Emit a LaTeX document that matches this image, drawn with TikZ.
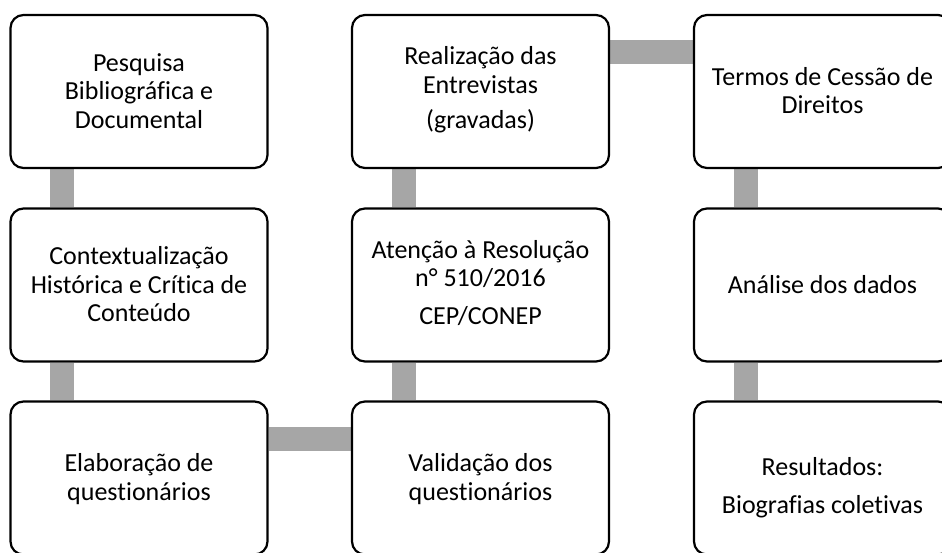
\documentclass[tikz,border=0pt]{standalone}
\usepackage{fontspec}
\setmainfont{Carlito}[RawFeature={-liga;-clig;-dlig}]
\usetikzlibrary{calc,backgrounds}
\definecolor{barcol}{HTML}{A6A6A6}
\newcommand\sT{\rule[-6.05pt]{0pt}{28.5pt}}
\newcommand\sTtop[1]{\rule[-6.05pt]{0pt}{\dimexpr28.5pt+#1\relax}}
\newcommand\sTbot[1]{\rule[\dimexpr-6.05pt-#1\relax]{0pt}{\dimexpr28.5pt+#1\relax}}
\begin{document}
\begin{tikzpicture}[x=1pt,y=-1pt,
  box/.style={draw=black, line width=2.2pt, rounded corners=13pt, fill=white,
    minimum width=257pt, minimum height=153pt, inner sep=0pt, align=center,
    font=\fontsize{26pt}{28.5pt}\selectfont},
  bar/.style={draw=barcol, line width=24pt}]
\useasboundingbox (0,0) rectangle (942,552);
\clip (0,0) rectangle (942,552);
% column 1
\node[box] (pesq) at (139,91.5) {\sT Pesquisa\\\sT Bibliográfica e\\\sT Documental};
\node[box] (ctx) at (139,285) {\sT Contextualização\\\sT Histórica e Crítica de\\\sT Conteúdo};
\node[box] (elab) at (139,478) {\sT Elaboração de\\\sT questionários};
% column 2
\node[box] (valid) at (480.5,478) {\sT Validação dos\\\sT questionários};
\node[box] (aten) at (480.5,285) {\sT Atenção à Resolução\\\sT n° 510/2016\\[9pt]\sTbot{4pt}CEP/CONEP};
\node[box] (real) at (480.5,91.5) {\sT Realização das\\\sT Entrevistas\\[6.5pt]\sTbot{6pt}(gravadas)};
% column 3
\node[box] (termos) at (822.5,91.5) {\sT Termos de Cessão de\\\sT Direitos};
\node[box] (anal) at (822.5,285) {\sT Análise dos dados};
\node[box] (result) at (822.5,478) {\sTtop{16pt}Resultados:\\[9.5pt]\sT Biografias coletivas};
% connectors
\begin{pgfonlayer}{background}
\draw[bar] ($(pesq.south west)+(53,0)$) -- ($(ctx.north west)+(53,0)$);
\draw[bar] ($(ctx.south west)+(53,0)$) -- ($(elab.north west)+(53,0)$);
\draw[bar] ($(elab.north east)+(0,39)$) -- ($(valid.north west)+(0,39)$);
\draw[bar] ($(valid.north west)+(53,0)$) -- ($(aten.south west)+(53,0)$);
\draw[bar] ($(aten.north west)+(53,0)$) -- ($(real.south west)+(53,0)$);
\draw[bar] ($(real.north east)+(0,38.5)$) -- ($(termos.north west)+(0,38.5)$);
\draw[bar] ($(termos.south west)+(53,0)$) -- ($(anal.north west)+(53,0)$);
\draw[bar] ($(anal.south west)+(53,0)$) -- ($(result.north west)+(53,0)$);
\end{pgfonlayer}
\end{tikzpicture}
\end{document}
